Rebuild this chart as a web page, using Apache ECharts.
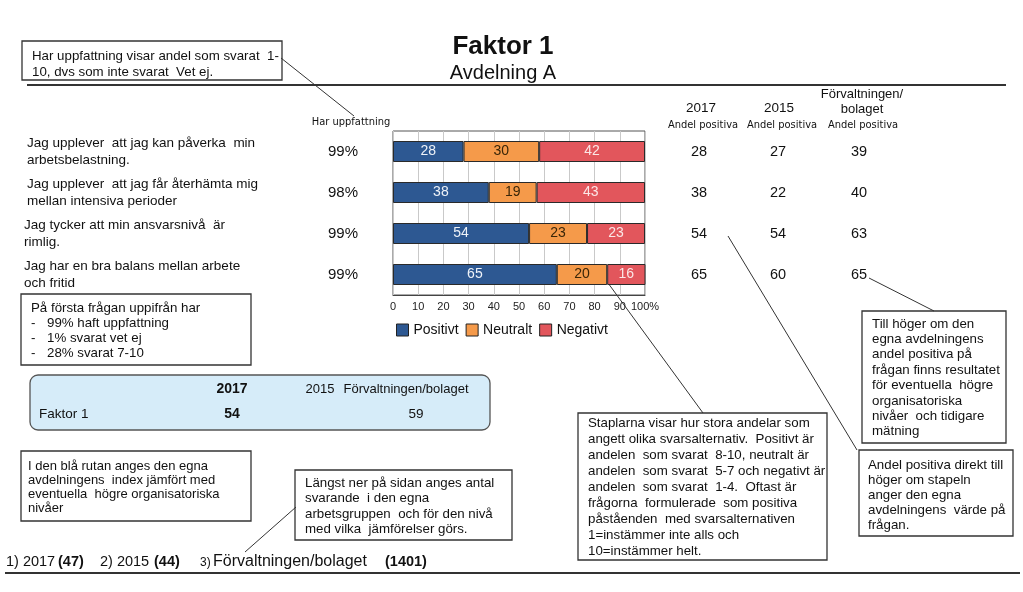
<!DOCTYPE html>
<html><head><meta charset="utf-8">
<script src="https://cdn.jsdelivr.net/npm/echarts@6.0.0/dist/echarts.min.js"></script>
<style>html,body{margin:0;padding:0;background:#fff}#c{width:1023px;height:592px}</style>
</head><body><div id="c"></div>
<script>
// ---- data ----
const questions = [
  ['Jag upplever  att jag kan påverka  min', 'arbetsbelastning.'],
  ['Jag upplever  att jag får återhämta mig', 'mellan intensiva perioder'],
  ['Jag tycker att min ansvarsnivå  är', 'rimlig.'],
  ['Jag har en bra balans mellan arbete', 'och fritid']
];
const categories = ['Q1', 'Q2', 'Q3', 'Q4'];
const harUppfattning = ['99%', '98%', '99%', '99%'];
const positivt = [28, 38, 54, 65];
const neutralt = [30, 19, 23, 20];
const negativt = [42, 43, 23, 16];
const andel2017 = [28, 38, 54, 65];
const andel2015 = [27, 22, 54, 60];
const andelForv = [39, 40, 63, 65];
const seriesNames = ['Positivt', 'Neutralt', 'Negativt'];
const xTickLabels = ['0','10','20','30','40','50','60','70','80','90','100%'];
const indexHeader = ['2017', '2015', 'Förvaltningen/bolaget'];
const indexValues = ['54', '', '59'];

const FONT = 'Liberation Sans, Arial, sans-serif';
const NARROW = '"Liberation Sans Narrow", "DejaVu Sans Condensed", Arial, sans-serif';
const colors = ['#2d5892', '#f59a4a', '#e2565c'];
const labelColors = ['#eef2f8', '#3a2608', '#fbe6e6'];

const chart = echarts.init(document.getElementById('c'));
const mk = (name, data, i) => ({
  name, type: 'bar', stack: 'all', data, barWidth: 21,
  itemStyle: {color: colors[i], borderColor: '#2a2a2a', borderWidth: 1},
  label: {show: true, position: 'inside', color: labelColors[i], fontSize: 14, fontFamily: FONT}
});
chart.setOption({
  animation: false,
  grid: {left: 393, top: 131, width: 252, height: 164, show: true, borderColor: '#555', borderWidth: 1, containLabel: false},
  xAxis: {
    type: 'value', min: 0, max: 100, interval: 10,
    axisLine: {show: true, lineStyle: {color: '#444'}},
    axisTick: {show: false},
    splitLine: {show: true, lineStyle: {color: '#c9c9c9', width: 1}},
    axisLabel: {fontSize: 11, color: '#222', fontFamily: FONT, margin: 6,
      formatter: v => xTickLabels[Math.round(v / 10)]}
  },
  yAxis: {type: 'category', data: categories, inverse: true,
    axisLine: {show: false}, axisTick: {show: false}, axisLabel: {show: false}, splitLine: {show: false}},
  legend: {
    left: 391, top: 318, itemWidth: 12, itemHeight: 12, itemGap: 7, icon: 'rect',
    itemStyle: {borderColor: '#222', borderWidth: 1},
    textStyle: {fontSize: 14, color: '#111', fontFamily: FONT},
    data: seriesNames
  },
  series: [mk(seriesNames[0], positivt, 0), mk(seriesNames[1], neutralt, 1), mk(seriesNames[2], negativt, 2)]
});

const rowY = categories.map((c, i) => chart.convertToPixel({yAxisIndex: 0}, i));
const g = [];
function txt(text, x, y, size, opts) {
  opts = opts || {};
  g.push({type: 'text', silent: true, style: {
    text, x, y, fill: opts.fill || '#111',
    font: (opts.bold ? 'bold ' : '') + size + 'px ' + (opts.family || FONT),
    align: opts.align || 'left', verticalAlign: 'middle'
  }});
}
function lines(arr, x, y0, dy, size, opts) { arr.forEach((t, i) => txt(t, x, y0 + i * dy, size, opts)); }
function box(x, y, w, h, opts) {
  opts = opts || {};
  g.push({type: 'rect', silent: true, z: opts.z || 0, shape: {x, y, width: w, height: h, r: opts.r || 0},
    style: {fill: opts.fill || '#fff', stroke: opts.stroke || '#333', lineWidth: opts.lw || 1.3}});
}
function line(x1, y1, x2, y2, lw, color) {
  g.push({type: 'line', silent: true, shape: {x1, y1, x2, y2}, style: {stroke: color || '#333', lineWidth: lw || 1}});
}

// title
txt('Faktor 1', 503, 47, 26, {bold: true, align: 'center'});
txt('Avdelning A', 503, 73, 20, {align: 'center'});
line(27, 85, 1006, 85, 2, '#333');
line(5, 573, 1020, 573, 2, '#333');

// column headers
txt('Har uppfattning', 351, 122, 11, {align: 'center', family: NARROW});
txt('2017', 701, 108, 13.5, {align: 'center'});
txt('2015', 779, 108, 13.5, {align: 'center'});
txt('Förvaltningen/', 862, 94, 13, {align: 'center'});
txt('bolaget', 862, 109, 13, {align: 'center'});
txt('Andel positiva', 703, 125, 11, {align: 'center', family: NARROW});
txt('Andel positiva', 782, 125, 11, {align: 'center', family: NARROW});
txt('Andel positiva', 863, 125, 11, {align: 'center', family: NARROW});

// rows
const qx = [27, 27, 24, 24];
rowY.forEach((y, i) => {
  txt(questions[i][0], qx[i], y - 8, 13.5);
  txt(questions[i][1], qx[i], y + 9, 13.5);
  txt(harUppfattning[i], 343, y + 0.5, 15, {align: 'center'});
  txt(String(andel2017[i]), 699, y + 0.5, 14.5, {align: 'center'});
  txt(String(andel2015[i]), 778, y + 0.5, 14.5, {align: 'center'});
  txt(String(andelForv[i]), 859, y + 0.5, 14.5, {align: 'center'});
});

// top-left annotation
box(22, 41, 260, 39);
lines(['Har uppfattning visar andel som svarat  1-', '10, dvs som inte svarat  Vet ej.'], 32, 56, 16, 13.3);
line(281, 58, 354, 116);

// first question annotation
box(21, 294, 230, 71);
txt('På första frågan uppifrån har', 31, 308, 13.3);
['99% haft uppfattning', '1% svarat vet ej', '28% svarat 7-10'].forEach((t, i) => {
  txt('-', 31, 323 + i * 15, 13.3);
  txt(t, 47, 323 + i * 15, 13.3);
});

// blue index box
box(30, 375, 460, 55, {r: 8, fill: '#d6ecf9', stroke: '#555', lw: 1.3});
txt(indexHeader[0], 232, 389, 14, {align: 'center', bold: true});
txt(indexHeader[1], 320, 389, 13, {align: 'center'});
txt(indexHeader[2], 406, 389, 13, {align: 'center'});
txt('Faktor 1', 39, 414, 13.5);
txt(indexValues[0], 232, 414, 14, {align: 'center', bold: true});
txt(indexValues[2], 416, 414, 13.5, {align: 'center'});

// blue box explanation
box(21, 451, 230, 70);
lines(['I den blå rutan anges den egna', 'avdelningens  index jämfört med', 'eventuella  högre organisatoriska', 'nivåer'], 28, 466, 14.3, 13);

// bottom counts annotation
box(295, 470, 217, 70);
lines(['Längst ner på sidan anges antal', 'svarande  i den egna', 'arbetsgruppen  och för den nivå', 'med vilka  jämförelser görs.'], 305, 483, 15.5, 13.3);
line(245, 552, 296, 507);

// bottom counts
txt('1) 2017', 6, 562, 14.5);
txt('(47)', 58, 562, 14.5, {bold: true});
txt('2) 2015', 100, 562, 14.5);
txt('(44)', 154, 562, 14.5, {bold: true});
txt('3)', 200, 563, 12);
txt('Förvaltningen/bolaget', 213, 562, 16);
txt('(1401)', 385, 562, 14.5, {bold: true});

// Staplarna annotation
box(578, 413, 249, 147);
lines(['Staplarna visar hur stora andelar som', 'angett olika svarsalternativ.  Positivt är',
  'andelen  som svarat  8-10, neutralt är', 'andelen  som svarat  5-7 och negativt är',
  'andelen  som svarat  1-4.  Oftast är', 'frågorna  formulerade  som positiva',
  'påståenden  med svarsalternativen', '1=instämmer inte alls och', '10=instämmer helt.'], 588, 423, 16.1, 13.3);
line(608, 283, 703, 413);

// Till höger annotation
box(862, 311, 144, 132);
lines(['Till höger om den', 'egna avdelningens', 'andel positiva på', 'frågan finns resultatet',
  'för eventuella  högre', 'organisatoriska', 'nivåer  och tidigare', 'mätning'], 872, 324, 15.4, 13.3);
line(869, 278, 934, 311);

// Andel positiva direkt annotation
box(859, 450, 154, 86);
lines(['Andel positiva direkt till', 'höger om stapeln', 'anger den egna', 'avdelningens  värde på', 'frågan.'], 868, 465, 15, 13.3);
line(728, 236, 857, 450);

chart.setOption({graphic: {elements: g}});
</script></body></html>
